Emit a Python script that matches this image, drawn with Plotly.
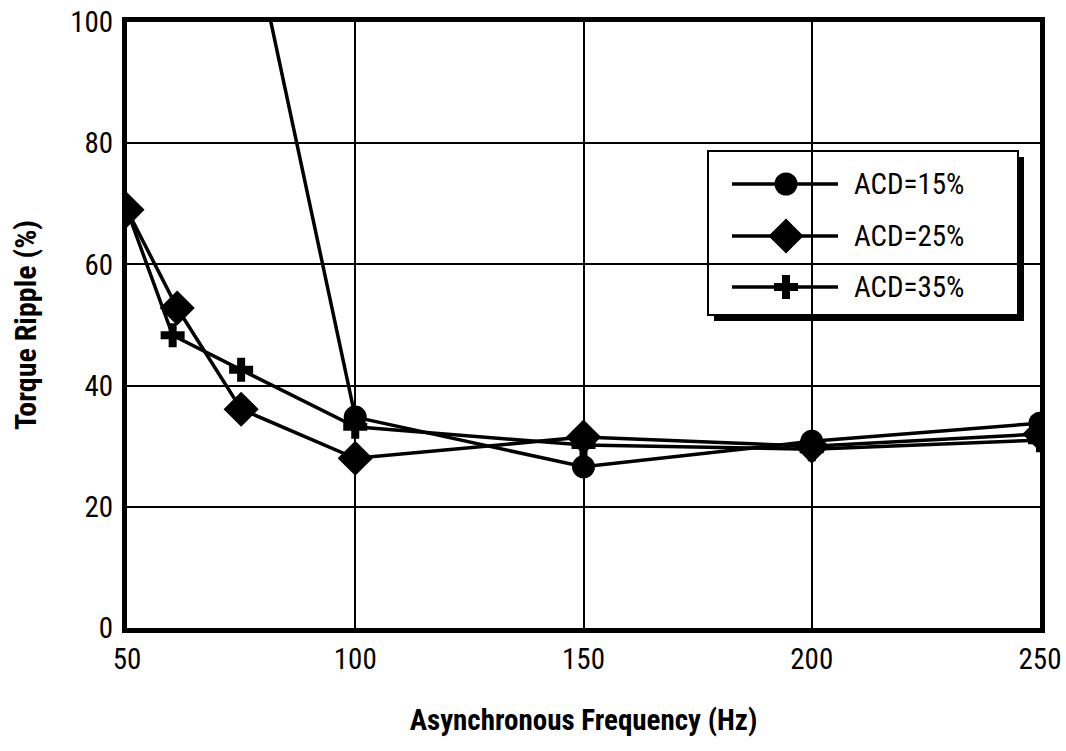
import plotly.graph_objects as go

# ---------------- data ----------------
freq_15 = [75, 100, 150, 200, 250]
ripple_15 = [123.0, 34.8, 26.6, 30.8, 33.8]

freq_25 = [50, 61, 75, 100, 150, 200, 250]
ripple_25 = [69.0, 52.8, 36.1, 28.0, 31.5, 30.0, 32.0]

freq_35 = [50, 60, 75, 100, 150, 200, 250]
ripple_35 = [69.0, 48.3, 42.6, 33.2, 30.2, 29.5, 31.0]

series_names = ["ACD=15%", "ACD=25%", "ACD=35%"]
x_ticks = [50, 100, 150, 200, 250]
y_ticks = [0, 20, 40, 60, 80, 100]

# ---------------- layout constants ----------------
W, H = 1066, 751
L, R, T, B = 127, 1040, 22, 628
X_RANGE = [50, 250]
Y_RANGE = [0, 100]
FONT = "Liberation Sans Narrow, Arial Narrow, Roboto Condensed, Liberation Sans, sans-serif"


def px_x(p):
    return (p - L) / (R - L)


def px_y(p):
    return (B - p) / (B - T)


def ax_x(p):
    return X_RANGE[0] + px_x(p) * (X_RANGE[1] - X_RANGE[0])


def ax_y(p):
    return Y_RANGE[0] + px_y(p) * (Y_RANGE[1] - Y_RANGE[0])


fig = go.Figure()

styles = [
    dict(symbol="circle", size=23),
    dict(symbol="diamond", size=27),
    dict(symbol="cross", size=20),
]

for (xs, ys), name, st in zip(
    [(freq_15, ripple_15), (freq_25, ripple_25), (freq_35, ripple_35)],
    series_names, styles,
):
    fig.add_trace(go.Scatter(
        x=xs, y=ys, mode="lines+markers", name=name,
        line=dict(color="black", width=3.5),
        marker=dict(symbol=st["symbol"], size=st["size"], color="black",
                    line=dict(width=0)),
        showlegend=False, cliponaxis=True,
    ))

# ---------------- custom legend ----------------
box_l, box_t, box_r, box_b = 708, 151, 1018, 315
shadow = 6
fig.add_shape(type="rect", xref="paper", yref="paper",
              x0=px_x(box_l + shadow), x1=px_x(box_r + shadow),
              y0=px_y(box_b + shadow), y1=px_y(box_t + shadow),
              fillcolor="black", line=dict(width=0), layer="between")
fig.add_shape(type="rect", xref="paper", yref="paper",
              x0=px_x(box_l), x1=px_x(box_r),
              y0=px_y(box_b), y1=px_y(box_t),
              fillcolor="white", line=dict(color="black", width=2), layer="between")

row_y = [184, 236, 287]
line_x0, line_x1, mark_x = 732, 838, 786
for name, st, ry in zip(series_names, styles, row_y):
    fig.add_trace(go.Scatter(
        x=[ax_x(line_x0), ax_x(line_x1)],
        y=[ax_y(ry)] * 2,
        mode="lines",
        line=dict(color="black", width=3.5),
        showlegend=False, hoverinfo="skip",
    ))
    fig.add_trace(go.Scatter(
        x=[ax_x(mark_x)], y=[ax_y(ry)],
        mode="markers",
        marker=dict(symbol=st["symbol"], size=st["size"], color="black",
                    opacity=1, line=dict(width=0)),
        showlegend=False, hoverinfo="skip",
    ))
    fig.add_annotation(xref="paper", yref="paper", x=px_x(852), y=px_y(ry),
                       text=name, showarrow=False, xanchor="left", yanchor="middle",
                       font=dict(family=FONT, size=29, color="black"))

axis_common = dict(
    showline=True, linecolor="black", linewidth=5, mirror=True,
    showgrid=True, gridcolor="black", gridwidth=2,
    zeroline=False, ticks="", automargin=False,
    tickfont=dict(family=FONT, size=29, color="black"),
)

fig.update_layout(
    width=W, height=H,
    margin=dict(l=L, r=W - R, t=T, b=H - B, autoexpand=False),
    paper_bgcolor="white", plot_bgcolor="white",
    xaxis=dict(range=X_RANGE, tickvals=x_ticks, ticklabelstandoff=1,
               title=dict(text="<b>Asynchronous Frequency (Hz)</b>", standoff=36,
                          font=dict(family=FONT, size=29, color="black")),
               **axis_common),
    yaxis=dict(range=Y_RANGE, tickvals=y_ticks, ticklabelstandoff=3,
               title=dict(text="<b>Torque Ripple (%)</b>", standoff=26,
                          font=dict(family=FONT, size=30, color="black")),
               **axis_common),
    showlegend=False,
)

fig.write_html("out.html")
